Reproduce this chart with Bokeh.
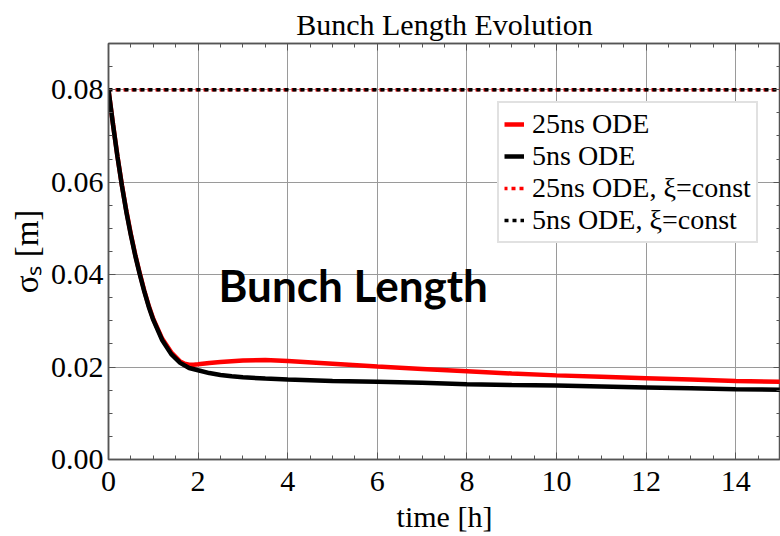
from bokeh.plotting import figure
from bokeh.models import (Range1d, LinearAxis, SingleIntervalTicker, Label,
                          Legend, LegendItem, PrintfTickFormatter)
from bokeh.embed import file_html
from bokeh.resources import INLINE

# ---- data ----
t_5ns = [0.0, 0.1, 0.2, 0.3, 0.4, 0.5, 0.6, 0.7, 0.8, 0.9, 1.0, 1.2, 1.4, 1.6, 1.8,
         2.0, 2.25, 2.5, 2.75, 3.0, 3.5, 4.0, 5.0, 6.0, 7.0, 8.0, 9.0, 10.0, 11.0, 12.0, 13.0,
         14.0, 15.0]
sigma_5ns = [0.0800, 0.0725, 0.0655, 0.0592, 0.0535, 0.0485, 0.0440, 0.0400, 0.0363, 0.0330,
             0.0302, 0.0258, 0.0228, 0.0209, 0.0198, 0.0193, 0.0187, 0.0183, 0.0180, 0.0178,
             0.0175, 0.0173, 0.0170, 0.0168, 0.0166, 0.0163, 0.0161, 0.0160, 0.0158, 0.0156,
             0.0154, 0.0152, 0.0151]

t_25ns = [0.0, 0.1, 0.2, 0.3, 0.4, 0.5, 0.6, 0.7, 0.8, 0.9, 1.0, 1.2, 1.4, 1.6, 1.7, 1.8, 1.9,
          2.0, 2.25, 2.5, 3.0, 3.5, 4.0, 5.0, 6.0, 7.0, 8.0, 9.0, 10.0, 11.0, 12.0, 13.0, 14.0, 15.0]
sigma_25ns = [0.0800, 0.0726, 0.0656, 0.0593, 0.0537, 0.0487, 0.0442, 0.0402, 0.0365, 0.0332,
              0.0304, 0.0261, 0.0232, 0.0212, 0.0207, 0.0205, 0.0205, 0.0206, 0.0209, 0.0211,
              0.0214, 0.0215, 0.0213, 0.0207, 0.0201, 0.0196, 0.0191, 0.0186, 0.0182, 0.0179,
              0.0176, 0.0173, 0.0170, 0.0168]

t_const = [0.0, 15.0]
sigma_const_25ns = [0.08, 0.08]
sigma_const_5ns = [0.08, 0.08]

legend_labels = ["25ns ODE", "5ns ODE", "25ns ODE, \u03be=const", "5ns ODE, \u03be=const"]
title_text = "Bunch Length Evolution"
x_label = "time [h]"
y_label = "\u03c3\u209b [m]"
annotation_text = "Bunch Length"

SERIF = "Liberation Serif"
FRAME = "#555555"

p = figure(width=780, height=536, output_backend="svg", toolbar_location=None,
           x_range=Range1d(0, 15), y_range=Range1d(0, 0.09),
           min_border_left=108, min_border_right=0, min_border_top=43, min_border_bottom=77,
           background_fill_color="white", border_fill_color="white")
p.outline_line_color = FRAME
p.outline_line_width = 1.5

p.title.text = title_text
p.title.text_font = SERIF
p.title.text_font_size = "30px"
p.title.text_font_style = "normal"
p.title.text_color = "black"
p.title.align = "center"
p.title.standoff = 6

for ax in (p.xaxis[0], p.yaxis[0]):
    ax.major_label_text_font = SERIF
    ax.major_label_text_font_size = "30px"
    ax.major_label_text_color = "black"
    ax.axis_line_color = FRAME
    ax.axis_line_width = 1.5
    ax.major_tick_line_color = FRAME
    ax.minor_tick_line_color = FRAME
    ax.major_tick_in = 7
    ax.major_tick_out = 0
    ax.minor_tick_in = 4
    ax.minor_tick_out = 0
    ax.axis_label_text_font = SERIF
    ax.axis_label_text_font_style = "normal"
    ax.axis_label_text_color = "black"

xt = SingleIntervalTicker(interval=2, num_minor_ticks=4)
yt = SingleIntervalTicker(interval=0.02, num_minor_ticks=4)
p.xaxis[0].ticker = xt
p.yaxis[0].ticker = yt
p.xaxis[0].formatter = PrintfTickFormatter(format="%d")
p.yaxis[0].formatter = PrintfTickFormatter(format="%.2f")
p.xaxis[0].major_label_standoff = 12
p.xaxis[0].axis_label = x_label
p.xaxis[0].axis_label_text_font_size = "30px"
p.xaxis[0].axis_label_standoff = 6
p.yaxis[0].major_label_standoff = 5
p.yaxis[0].axis_label = y_label
p.yaxis[0].axis_label_text_font_size = "33px"
p.yaxis[0].axis_label_standoff = 3

# top and right axes: ticks only
for loc, tk in (("above", SingleIntervalTicker(interval=2, num_minor_ticks=4)),
                ("right", SingleIntervalTicker(interval=0.02, num_minor_ticks=4))):
    ax = LinearAxis(ticker=tk)
    ax.major_label_text_font_size = "1px"
    ax.major_label_text_color = None
    ax.major_label_standoff = 0
    ax.axis_line_color = FRAME
    ax.axis_line_width = 1.5
    ax.major_tick_line_color = FRAME
    ax.minor_tick_line_color = FRAME
    ax.major_tick_in = 7
    ax.major_tick_out = 0
    ax.minor_tick_in = 4
    ax.minor_tick_out = 0
    p.add_layout(ax, loc)

p.xgrid.ticker = xt
p.ygrid.ticker = yt
for g in (p.xgrid[0], p.ygrid[0]):
    g.grid_line_color = "#9a9a9a"
    g.grid_line_width = 1

# ---- curves ----
r_c25 = p.line(t_const, sigma_const_25ns, line_color="#ff0000", line_width=3.5,
               line_dash="4 4", line_dash_offset=1)
r_c5 = p.line(t_const, sigma_const_5ns, line_color="black", line_width=3.5,
              line_dash="4 4")
r25 = p.line(t_25ns, sigma_25ns, line_color="#ff0000", line_width=4.5)
r5 = p.line(t_5ns, sigma_5ns, line_color="black", line_width=4.5)

legend = Legend(items=[LegendItem(label=legend_labels[0], renderers=[r25]),
                       LegendItem(label=legend_labels[1], renderers=[r5]),
                       LegendItem(label=legend_labels[2], renderers=[r_c25]),
                       LegendItem(label=legend_labels[3], renderers=[r_c5])],
                location=(389, 216))
legend.label_text_font = SERIF
legend.label_text_font_size = "28px"
legend.label_text_color = "black"
legend.glyph_width = 20
legend.glyph_height = 20
legend.label_standoff = 8
legend.padding = 5
legend.spacing = 0
legend.margin = 0
legend.border_line_color = "#c4c4c4"
legend.border_line_width = 2
legend.background_fill_color = "white"
legend.background_fill_alpha = 1
p.add_layout(legend)

# ---- annotation inside the plot ----
p.add_layout(Label(x=110, y=175, x_units="screen", y_units="screen", text=annotation_text,
                   text_font="Lato", text_font_style="bold", text_font_size="44px",
                   text_align="left", text_baseline="alphabetic", text_color="black"))

open("out.html", "w").write(file_html(p, INLINE))
